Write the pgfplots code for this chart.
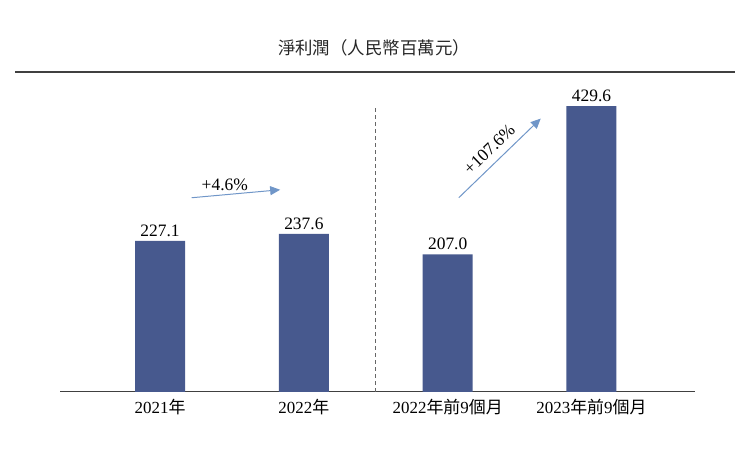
\documentclass[border=0pt]{standalone}
\usepackage{fontspec}
\setmainfont{Liberation Serif}
\newfontfamily\cjk{Noto Sans CJK TC}
\usepackage{pgfplots}
\pgfplotsset{compat=1.18}
\usetikzlibrary{arrows.meta}
\definecolor{barblue}{RGB}{71,89,142}
\definecolor{arrowblue}{RGB}{112,150,200}
\definecolor{axgray}{RGB}{64,64,64}
\begin{document}
\begin{tikzpicture}[x=1bp,y=1bp]
\useasboundingbox (0,0) rectangle (749,453);
\node[font=\fontsize{17.5}{20}\selectfont\cjk, text=black!85] at (374,405) {淨利潤（人民幣百萬元）};
\draw[axgray, line width=1.2bp] (15,381) -- (735,381);
\begin{axis}[
  at={(60bp,61bp)}, anchor=south west,
  scale only axis, width=635bp, height=312bp,
  xmin=-0.696, xmax=3.72, ymin=0, ymax=469,
  axis x line=bottom, axis y line=none,
  x axis line style={-, axgray, line width=1bp},
  xtick={0,1,2,3},
  xticklabels={{2021{\cjk 年}},{2022{\cjk 年}},{2022{\cjk 年前}9{\cjk 個月}},{2023{\cjk 年前}9{\cjk 個月}}},
  major tick length=0pt,
  tick label style={font=\fontsize{17}{19}\selectfont, text=black},
  xticklabel style={yshift=-4bp},
  ytick=\empty,
  clip=false,
  /pgf/number format/assume math mode=true,
]
\addplot[ybar, bar width=50bp, fill=barblue, draw=none,
  nodes near coords,
  nodes near coords style={font=\fontsize{17.5}{20}\selectfont, text=black, yshift=1bp, /pgf/number format/.cd, fixed, fixed zerofill, precision=1, assume math mode=true},
] coordinates {(0,227.1) (1,237.6) (2,207.0) (3,429.6)};
\draw[gray!80!black, line width=1.2bp, dash pattern=on 4bp off 3bp] (axis cs:1.5,0) -- (axis cs:1.5,428);
\draw[arrowblue, line width=1bp, -{Triangle[length=10bp,width=9bp]}] (axis cs:0.22,292) -- (axis cs:0.835,304);
\node[font=\fontsize{17.5}{20}\selectfont] at (axis cs:0.45,311) {+4.6\%};
\draw[arrowblue, line width=1bp, -{Triangle[length=10bp,width=9bp]}] (axis cs:2.077,292) -- (axis cs:2.647,411);
\node[font=\fontsize{17.5}{20}\selectfont, rotate=44] at (axis cs:2.29,365) {+107.6\%};
\end{axis}
\end{tikzpicture}
\end{document}
